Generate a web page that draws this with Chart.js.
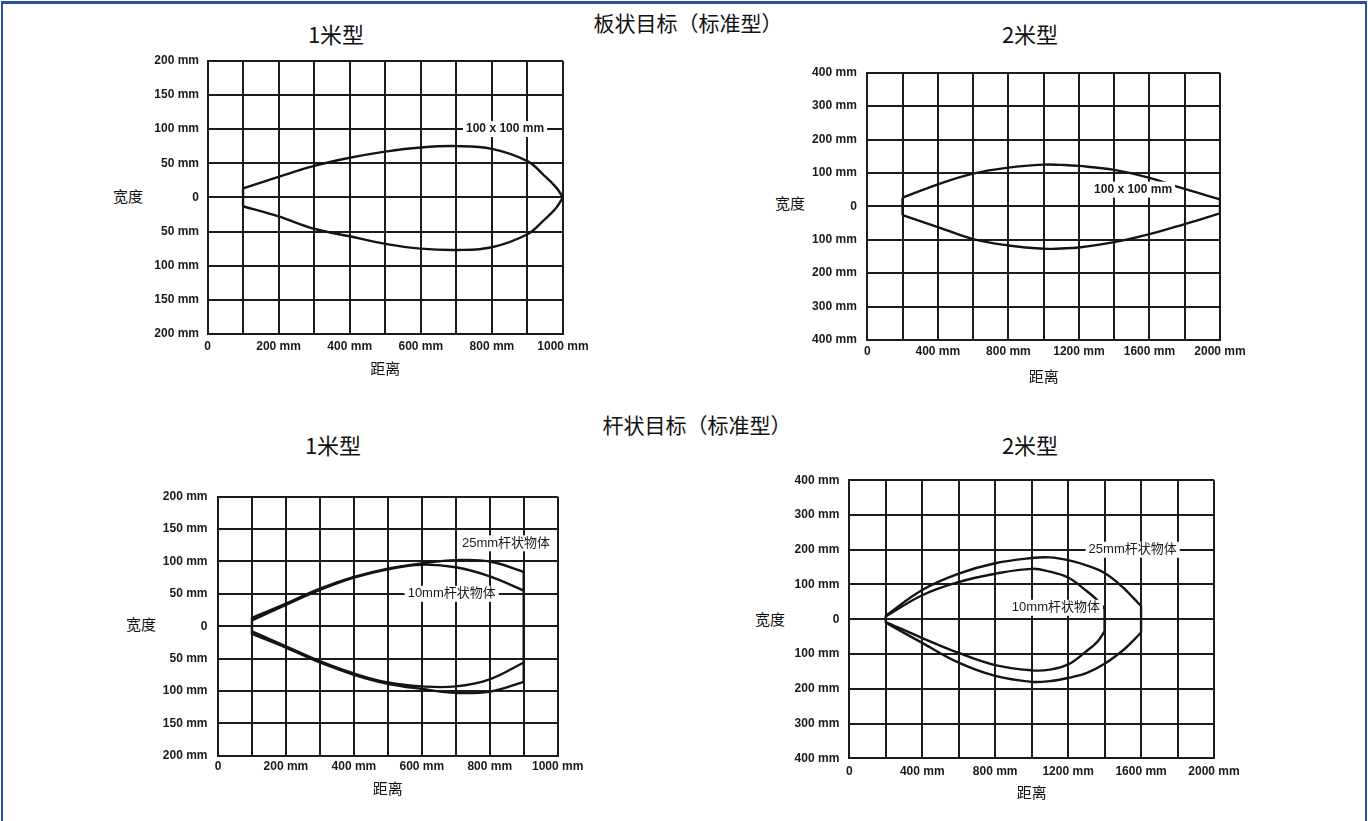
<!DOCTYPE html>
<html>
<head>
<meta charset="utf-8">
<script src="https://cdn.jsdelivr.net/npm/chart.js@4.4.1/dist/chart.umd.min.js"></script>
<style>
  html, body { margin: 0; padding: 0; background: #fff; width: 1368px; height: 821px; overflow: hidden; }
  #frame { position: absolute; left: 1px; top: 1px; width: 1362px; height: 860px; border: 2px solid #2d4fa3; border-top-width: 3px; border-bottom: none; }
  .box { position: absolute; }
  .txt { position: absolute; transform: translate(-50%, -50%); white-space: nowrap; color: #111;
         font-family: "Noto Sans CJK SC", "Liberation Sans", sans-serif; }
  .big { font-size: 21px; }
  .sub { font-size: 22px; }
  .ax { font-size: 15px; }
</style>
</head>
<body>
<div id="frame"></div>

<div class="txt big" style="left:688px;top:22px;">板状目标（标准型）</div>
<div class="txt sub" style="left:336px;top:33px;">1米型</div>
<div class="txt sub" style="left:1030px;top:33px;">2米型</div>
<div class="txt big" style="left:697px;top:424px;">杆状目标（标准型）</div>
<div class="txt sub" style="left:333px;top:444px;">1米型</div>
<div class="txt sub" style="left:1030px;top:444px;">2米型</div>

<div class="txt ax" style="left:128px;top:195px;">宽度</div>
<div class="txt ax" style="left:790px;top:202px;">宽度</div>
<div class="txt ax" style="left:141px;top:623px;">宽度</div>
<div class="txt ax" style="left:770px;top:618px;">宽度</div>

<div class="box" id="b1"><canvas id="c1"></canvas></div>
<div class="box" id="b2"><canvas id="c2"></canvas></div>
<div class="box" id="b3"><canvas id="c3"></canvas></div>
<div class="box" id="b4"><canvas id="c4"></canvas></div>

<script>
// 板状目标 1米型 (100 x 100 mm)
var plate1mDist = [100, 200, 300, 400, 500, 600, 700, 800, 900, 945, 980, 1000];
var plate1mUpper = [13, 30, 46, 58, 67, 73, 75, 71, 53, 33, 15, 0];
var plate1mLower = [-13, -28, -46, -57, -68, -75, -77, -73, -54, -34, -16, 0];
var plate1mTicksX = [0, 200, 400, 600, 800, 1000];

// 板状目标 2米型 (100 x 100 mm)
var plate2mDist = [200, 400, 600, 800, 1000, 1100, 1200, 1400, 1600, 1800, 2000];
var plate2mUpper = [26, 66, 98, 116, 125, 124, 121, 109, 85, 52, 21];
var plate2mLower = [-26, -62, -98, -117, -127, -126, -123, -107, -83, -53, -21];
var plate2mTicksX = [0, 400, 800, 1200, 1600, 2000];

// 杆状目标 1米型
var rod1mDist = [100, 200, 300, 400, 500, 600, 700, 800, 900];
var rod1m25Upper = [13, 35, 58, 76, 89, 97, 102, 100, 84];
var rod1m25Lower = [-12, -33, -56, -75, -89, -97, -103, -101, -86];
var rod1m10Upper = [9, 33, 56, 75, 88, 95, 91, 77, 55];
var rod1m10Lower = [-8, -31, -54, -73, -87, -93, -93, -82, -56];
var rod1mTicksX = [0, 200, 400, 600, 800, 1000];

// 杆状目标 2米型
var rod2m25Dist = [200, 400, 600, 800, 1000, 1100, 1200, 1300, 1400, 1500, 1560, 1600];
var rod2m25Upper = [10, 84, 131, 161, 176, 178, 170, 155, 133, 92, 60, 38];
var rod2m25Lower = [-10, -68, -125, -163, -180, -178, -169, -155, -128, -90, -60, -38];
var rod2m10Dist = [200, 400, 600, 800, 1000, 1100, 1200, 1300, 1360, 1400];
var rod2m10Upper = [8, 69, 107, 131, 145, 137, 120, 82, 55, 30];
var rod2m10Lower = [-8, -54, -97, -132, -147, -145, -130, -92, -65, -35];
var rod2mTicksX = [0, 400, 800, 1200, 1600, 2000];

var ink = '#141414';
var gridInk = '#1c1c1c';
var tickFont = { family: '"Liberation Sans", Arial, sans-serif', size: 12, weight: 'bold' };
var cjkFont = '"Noto Sans CJK SC", "Liberation Sans", sans-serif';

function curve(xs, ys) {
  return {
    data: xs.map(function (x, i) { return { x: x, y: ys[i] }; }),
    pointRadius: 0,
    borderColor: ink,
    borderWidth: 2.4,
    tension: 0.4,
    fill: false
  };
}

// straight segment joining the ends of two curves
function closer(x, y1, y2) {
  return {
    data: [{ x: x, y: y1 }, { x: x, y: y2 }],
    pointRadius: 0,
    borderColor: ink,
    borderWidth: 2.4,
    tension: 0,
    fill: false
  };
}

function last(a) { return a[a.length - 1]; }

var notePlugin = {
  id: 'notes',
  afterDatasetsDraw: function (chart, args, opts) {
    var ctx = chart.ctx;
    var items = opts.items || [];
    for (var i = 0; i < items.length; i++) {
      var n = items[i];
      var px = chart.scales.x.getPixelForValue(n.x);
      var py = chart.scales.y.getPixelForValue(n.y);
      ctx.save();
      ctx.font = n.font;
      var w = ctx.measureText(n.text).width;
      ctx.fillStyle = '#fff';
      ctx.fillRect(px - w / 2 - 3, py - 8, w + 6, 16);
      ctx.fillStyle = '#1a1a1a';
      ctx.textAlign = 'center';
      ctx.textBaseline = 'middle';
      ctx.fillText(n.text, px, py);
      ctx.restore();
    }
  }
};

// g: plot area edges in page pixels, where the axis title sits, tick paddings
function makeChart(boxId, canvasId, g, datasets, notes) {
  var left = Math.floor(g.L) - 72;
  var top = Math.floor(g.T) - 14;
  var width = Math.ceil(g.R + 40 - left);
  var height = Math.ceil(g.titleY + 9 - top);
  var box = document.getElementById(boxId);
  box.style.left = left + 'px';
  box.style.top = top + 'px';
  box.style.width = width + 'px';
  box.style.height = height + 'px';

  var yw = g.L - left;
  var xh = top + height - g.B;

  new Chart(canvasId, {
    type: 'line',
    data: { datasets: datasets },
    plugins: [notePlugin],
    options: {
      responsive: true,
      maintainAspectRatio: false,
      animation: false,
      layout: { padding: { left: 0, top: g.T - top, right: left + width - g.R, bottom: 0 } },
      scales: {
        x: {
          type: 'linear',
          min: 0,
          max: g.xMax,
          afterFit: function (s) { s.height = xh; },
          grid: { color: gridInk, lineWidth: 2, drawTicks: false },
          border: { color: gridInk, width: 2 },
          ticks: {
            stepSize: g.xMax / 10,
            autoSkip: false,
            maxRotation: 0,
            padding: g.padX,
            color: '#1a1a1a',
            font: tickFont,
            callback: function (v) {
              if (g.ticksX.indexOf(v) < 0) return '';
              return v === 0 ? '0' : v + ' mm';
            }
          },
          title: { display: true, text: '距离', color: '#111', padding: 0,
                   font: { family: cjkFont, size: 15 } }
        },
        y: {
          type: 'linear',
          min: -g.yMax,
          max: g.yMax,
          afterFit: function (s) { s.width = yw; },
          grid: { color: gridInk, lineWidth: 2, drawTicks: false },
          border: { color: gridInk, width: 2 },
          ticks: {
            stepSize: g.yMax / 4,
            autoSkip: false,
            padding: g.padY,
            color: '#1a1a1a',
            font: tickFont,
            callback: function (v) { return v === 0 ? '0' : Math.abs(v) + ' mm'; }
          }
        }
      },
      plugins: {
        legend: { display: false },
        tooltip: { enabled: false },
        notes: { items: notes }
      }
    }
  });
}

var boldNote = 'bold 12px "Liberation Sans", Arial, sans-serif';
var plainNote = '13px "Liberation Sans", "Noto Sans CJK SC", sans-serif';

makeChart('b1', 'c1',
  { L: 207.5, R: 563, T: 59, B: 334, titleY: 368, padX: 5, padY: 8.5, xMax: 1000, yMax: 200, ticksX: plate1mTicksX },
  [
    curve(plate1mDist, plate1mUpper),
    curve(plate1mDist, plate1mLower),
    closer(plate1mDist[0], plate1mUpper[0], plate1mLower[0])
  ],
  [{ text: '100 x 100 mm', x: 837, y: 100, font: boldNote }]
);

makeChart('b2', 'c2',
  { L: 867.3, R: 1220, T: 69, B: 340, titleY: 376, padX: 4.5, padY: 10.5, xMax: 2000, yMax: 400, ticksX: plate2mTicksX },
  [
    curve(plate2mDist, plate2mUpper),
    curve(plate2mDist, plate2mLower),
    closer(plate2mDist[0], plate2mUpper[0], plate2mLower[0]),
    closer(last(plate2mDist), last(plate2mUpper), last(plate2mLower))
  ],
  [{ text: '100 x 100 mm', x: 1507, y: 50, font: boldNote }]
);

makeChart('b3', 'c3',
  { L: 218, R: 557.7, T: 493.3, B: 755.7, titleY: 788, padX: 4, padY: 10.5, xMax: 1000, yMax: 200, ticksX: rod1mTicksX },
  [
    curve(rod1mDist, rod1m25Upper),
    curve(rod1mDist, rod1m25Lower),
    curve(rod1mDist, rod1m10Upper),
    curve(rod1mDist, rod1m10Lower),
    closer(last(rod1mDist), last(rod1m25Upper), last(rod1m25Lower)),
    closer(rod1mDist[0], rod1m25Upper[0], rod1m25Lower[0])
  ],
  [
    { text: '25mm杆状物体', x: 848, y: 128, font: plainNote },
    { text: '10mm杆状物体', x: 688, y: 50, font: plainNote }
  ]
);

makeChart('b4', 'c4',
  { L: 849.3, R: 1214, T: 477.3, B: 758.3, titleY: 791.7, padX: 6.5, padY: 10, xMax: 2000, yMax: 400, ticksX: rod2mTicksX },
  [
    curve(rod2m25Dist, rod2m25Upper),
    curve(rod2m25Dist, rod2m25Lower),
    curve(rod2m10Dist, rod2m10Upper),
    curve(rod2m10Dist, rod2m10Lower),
    closer(last(rod2m25Dist), last(rod2m25Upper), last(rod2m25Lower)),
    closer(last(rod2m10Dist), last(rod2m10Upper), last(rod2m10Lower)),
    closer(rod2m25Dist[0], rod2m25Upper[0], rod2m25Lower[0])
  ],
  [
    { text: '25mm杆状物体', x: 1554, y: 200, font: plainNote },
    { text: '10mm杆状物体', x: 1133, y: 33, font: plainNote }
  ]
);
</script>
</body>
</html>
